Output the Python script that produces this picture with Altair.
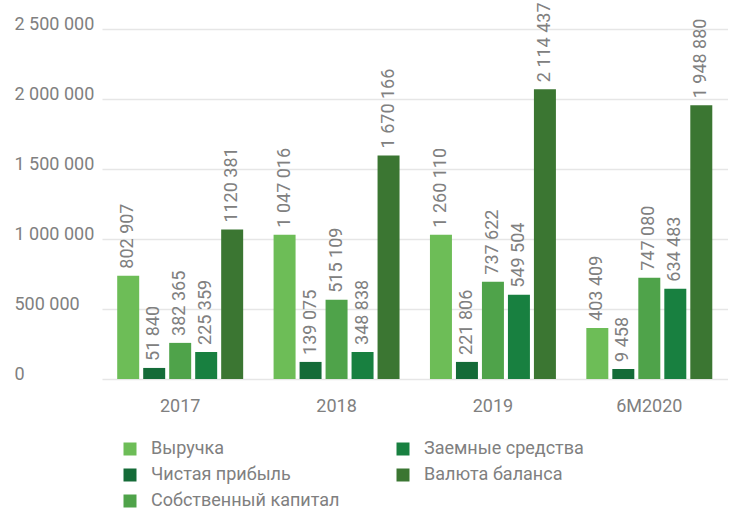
import altair as alt
import pandas as pd

periods = ["2017", "2018", "2019", "6M2020"]
series = ["Выручка", "Чистая прибыль", "Собственный капитал", "Заемные средства", "Валюта баланса"]
colors = ["#6dbd57", "#146b38", "#4fa34a", "#188040", "#3b7632"]

# bar heights as drawn in the picture
revenue = [738000, 1031000, 1031000, 365000]
net_profit = [79000, 122000, 122000, 72000]
equity = [258000, 566000, 695000, 723000]
borrowed = [193000, 193000, 602000, 645000]
assets = [1067000, 1597000, 2070000, 1955000]

# value labels as printed
revenue_lbl = ["802 907", "1 047 016", "1 260 110", "403 409"]
net_profit_lbl = ["51 840", "139 075", "221 806", "9 458"]
equity_lbl = ["382 365", "515 109", "737 622", "747 080"]
borrowed_lbl = ["225 359", "348 838", "549 504", "634 483"]
assets_lbl = ["1120 381", "1 670 166", "2 114 437", "1 948 880"]

y_ticks = [0, 500000, 1000000, 1500000, 2000000, 2500000]

vals = [revenue, net_profit, equity, borrowed, assets]
lbls = [revenue_lbl, net_profit_lbl, equity_lbl, borrowed_lbl, assets_lbl]
rows = []
for s, v, l in zip(series, vals, lbls):
    for p, vv, ll in zip(periods, v, l):
        rows.append({"period": p, "series": s, "value": vv, "label": ll})
df = pd.DataFrame(rows)

FONT = "Roboto"
GRAY = "#808080"

x = alt.X("period:N", sort=periods, title=None,
          scale=alt.Scale(paddingInner=0, paddingOuter=0),
          axis=alt.Axis(labelAngle=0, labelFontSize=18, labelColor=GRAY, labelFont=FONT,
                        ticks=False, domain=False, labelPadding=18))
xo = alt.XOffset("series:N", sort=series,
                 scale=alt.Scale(paddingInner=0.154, paddingOuter=0.585))
y = alt.Y("value:Q", title=None,
          scale=alt.Scale(domain=[0, 2500000], nice=False),
          axis=alt.Axis(values=y_ticks, labelFontSize=18, labelColor=GRAY, labelFont=FONT,
                        ticks=False, domain=False, labelAlign="left", labelPadding=88,
                        labelBaseline="alphabetic", gridColor="#e6e6e6", gridWidth=1.5,
                        labelExpr="replace(replace(format(datum.value, ',d'), ',', ' '), ',', ' ')"))

bars = alt.Chart(df).mark_bar().encode(
    x=x, xOffset=xo, y=y,
    color=alt.Color("series:N", title=None,
                    scale=alt.Scale(domain=series, range=colors),
                    legend=alt.Legend(orient="none", legendX=19, legendY=411, columns=2,
                                      symbolType="square", symbolSize=169, symbolStrokeWidth=0,
                                      labelFontSize=18, labelColor=GRAY, labelFont=FONT,
                                      labelOffset=12, rowPadding=8, columnPadding=54,
                                      padding=0, labelLimit=400)),
)

labels = alt.Chart(df).mark_text(angle=270, align="left", baseline="middle", dx=7,
                                 fontSize=18, font=FONT, color=GRAY).encode(
    x=x, xOffset=xo, y=y, text="label:N"
)

chart = (bars + labels).properties(
    width=625.5, height=350,
    autosize=alt.AutoSizeParams(type="none"),
    padding={"left": 102, "top": 29, "right": 5, "bottom": 132},
).configure_view(stroke=None)

chart.save("out.html", embed_options={"renderer": "svg", "actions": False})
